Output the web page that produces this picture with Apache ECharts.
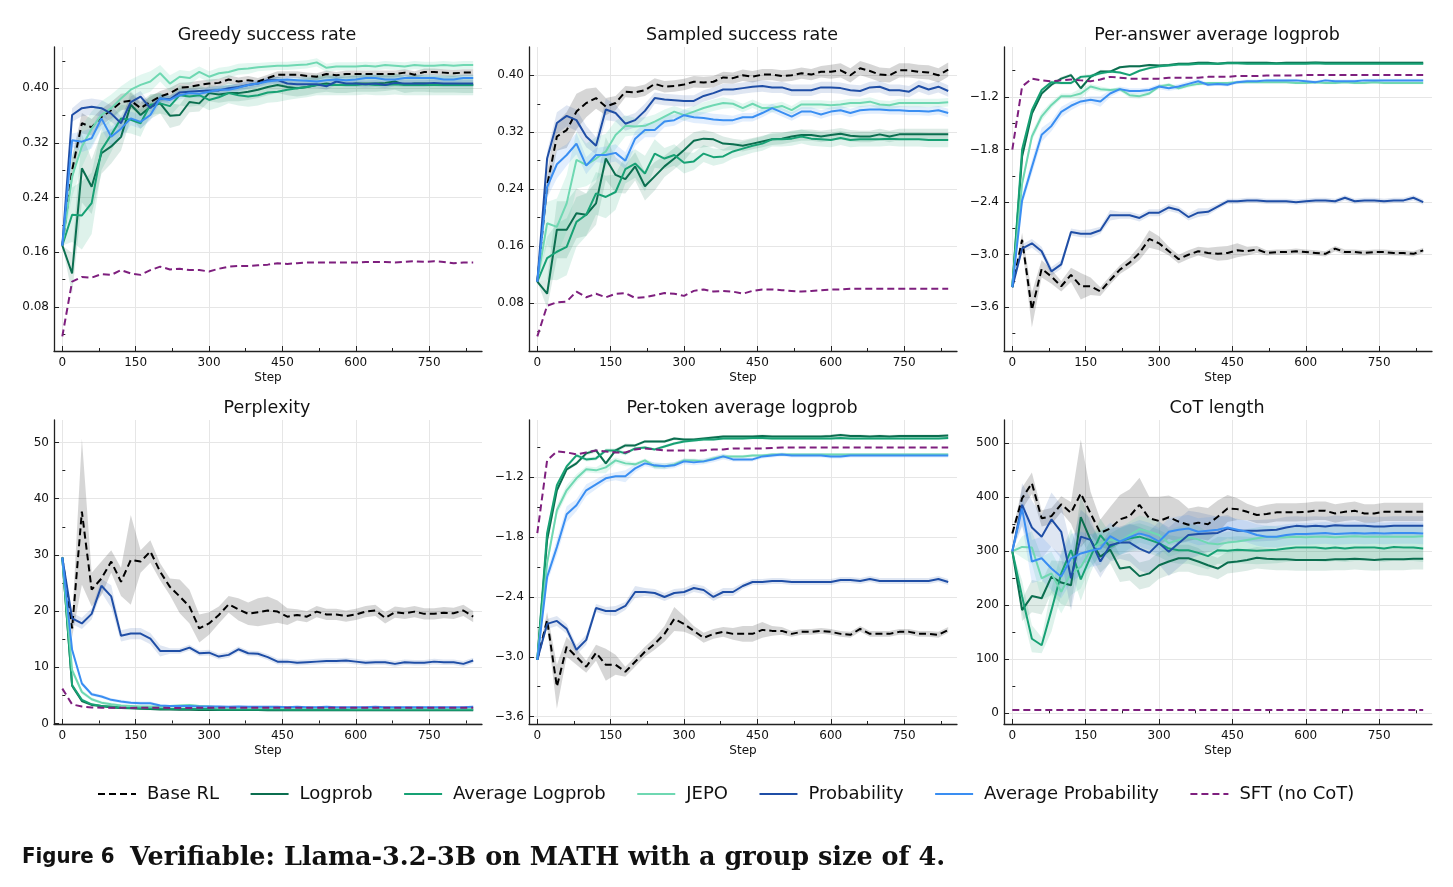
<!DOCTYPE html>
<html>
<head>
<meta charset="utf-8" />
<style>
  html, body { margin: 0; padding: 0; background: #ffffff; }
  #main { width: 1453px; height: 887px; }
</style>
</head>
<body>
<div id="main"></div>
<script src="https://cdn.jsdelivr.net/npm/echarts@6/dist/echarts.min.js"></script>
<script>
const steps = [0,20,40,60,80,100,120,140,160,180, 200,220,240,260,280,300,320,340,360,380, 400,420,440,460,480,500,520,540,560,580, 600,620,640,660,680,700,720,740,760,780, 800,820,840];

const names = ['Base RL', 'Logprob', 'Average Logprob', 'JEPO', 'Probability', 'Average Probability', 'SFT (no CoT)'];
const xTicks = [0, 150, 300, 450, 600, 750];
const xMinorTicks = [75, 225, 375, 525, 675, 825];

// Greedy success rate
const greedyBase = [.170,.280,.349,.343,.358,.368,.380,.382,.371,.380, .388,.393,.401,.402,.405,.407,.408,.413,.410,.412, .410,.415,.420,.420,.420,.418,.417,.421,.419,.421, .421,.421,.421,.421,.421,.423,.420,.424,.424,.423, .422,.423,.423];
const greedyLogprob = [.170,.129,.283,.256,.305,.315,.329,.376,.361,.373, .378,.360,.361,.380,.378,.393,.391,.393,.393,.395, .398,.402,.405,.402,.400,.402,.405,.407,.405,.405, .407,.407,.407,.408,.410,.405,.407,.407,.406,.406, .406,.405,.405];
const greedyAvgLogprob = [.170,.215,.214,.232,.310,.332,.356,.354,.349,.376, .378,.374,.390,.388,.390,.383,.387,.393,.390,.388, .390,.394,.395,.398,.400,.402,.405,.405,.405,.405, .405,.406,.405,.405,.406,.405,.405,.405,.405,.405, .405,.405,.405];
const greedyJepo = [.170,.271,.315,.341,.361,.371,.385,.398,.405,.410, .422,.407,.417,.415,.424,.417,.422,.424,.428,.429, .431,.432,.433,.433,.434,.435,.438,.430,.432,.432, .432,.433,.432,.434,.433,.432,.434,.433,.433,.434, .433,.434,.434];
const greedyProb = [.170,.361,.371,.373,.371,.363,.349,.380,.388,.371, .385,.384,.394,.395,.396,.397,.397,.400,.402,.405, .407,.412,.412,.407,.406,.406,.406,.403,.410,.407, .407,.406,.407,.405,.408,.407,.407,.407,.408,.407, .407,.407,.407];
const greedyAvgProb = [.170,.324,.322,.327,.356,.329,.341,.356,.351,.361, .385,.383,.390,.393,.392,.395,.398,.398,.401,.405, .407,.410,.412,.413,.412,.411,.410,.412,.413,.412, .413,.415,.415,.413,.413,.415,.415,.415,.415,.413, .413,.415,.415];
const greedySft = [.037,.117,.124,.123,.128,.127,.134,.129,.127,.134, .139,.135,.136,.134,.134,.132,.136,.139,.140,.140, .141,.142,.144,.143,.144,.145,.145,.145,.145,.145, .145,.146,.146,.146,.145,.146,.147,.146,.147,.146, .144,.145,.145];
const greedyBaseBand = [0,.02,.015,.012,.012,.012,.012,.012,.008,.008, .008,.008,.007,.007,.006,.006,.006,.006,.006,.006, .005,.005,.005,.005,.005,.005,.005,.005,.005,.005, .005,.005,.005,.005,.005,.005,.005,.005,.005,.005, .005,.005,.005];
const greedyLogprobBand = [0,.03,.05,.04,.03,.025,.02,.02,.02,.018, .015,.018,.015,.015,.012,.012,.012,.012,.012,.012, .012,.012,.012,.012,.012,.012,.012,.012,.012,.012, .012,.012,.012,.012,.012,.012,.012,.012,.012,.012, .012,.012,.012];
const greedyAvgLogprobBand = [0,.04,.05,.045,.03,.025,.02,.02,.02,.015, .015,.015,.015,.015,.015,.015,.015,.015,.015,.015, .015,.015,.015,.015,.015,.015,.015,.015,.015,.015, .015,.015,.015,.015,.015,.015,.015,.015,.015,.015, .015,.015,.015];
const greedyJepoBand = [0,.03,.03,.025,.02,.02,.018,.015,.015,.015, .012,.012,.01,.01,.008,.008,.008,.008,.008,.008, .006,.006,.006,.006,.006,.006,.006,.006,.006,.006, .006,.006,.006,.006,.006,.006,.006,.006,.006,.006, .006,.006,.006];
const greedyProbBand = [0,.01,.012,.012,.012,.012,.01,.008,.008,.006, .005,.005,.005,.005,.005,.005,.005,.005,.005,.005, .005,.005,.005,.005,.005,.005,.005,.005,.005,.005, .005,.005,.005,.005,.005,.005,.005,.005,.005,.005, .005,.005,.005];
const greedyAvgProbBand = [0,.01,.015,.015,.015,.015,.015,.01,.01,.008, .006,.006,.006,.006,.006,.006,.006,.006,.006,.006, .005,.005,.005,.005,.005,.005,.005,.005,.005,.005, .005,.005,.005,.005,.005,.005,.005,.005,.005,.005, .005,.005,.005];

// Sampled success rate
const sampledBase = [.110,.245,.314,.323,.349,.361,.368,.356,.361,.377, .376,.379,.388,.384,.385,.387,.391,.390,.391,.397, .396,.400,.398,.401,.401,.399,.400,.403,.401,.405, .405,.407,.400,.410,.406,.401,.400,.407,.407,.405, .404,.400,.408];
const sampledLogprob = [.110,.093,.183,.183,.206,.204,.220,.283,.260,.254, .272,.244,.258,.272,.283,.295,.308,.311,.310,.304, .303,.301,.304,.307,.310,.311,.314,.316,.316,.314, .316,.318,.315,.314,.314,.317,.314,.317,.317,.317, .317,.317,.317];
const sampledAvgLogprob = [.110,.143,.152,.159,.194,.204,.234,.229,.236,.268, .276,.262,.290,.283,.288,.277,.279,.290,.285,.286, .293,.297,.301,.304,.310,.310,.311,.314,.311,.310, .309,.312,.309,.310,.310,.310,.311,.310,.310,.310, .309,.309,.309];
const sampledJepo = [.110,.192,.187,.220,.281,.274,.283,.293,.316,.329, .328,.329,.335,.342,.349,.344,.349,.354,.358,.361, .360,.354,.360,.354,.354,.357,.351,.359,.359,.359, .358,.359,.361,.361,.363,.359,.358,.361,.361,.361, .361,.361,.362];
const sampledProb = [.110,.283,.333,.343,.337,.314,.301,.352,.347,.332, .337,.350,.368,.366,.365,.364,.364,.371,.375,.380, .380,.382,.384,.385,.383,.383,.379,.379,.379,.383, .383,.382,.379,.378,.383,.384,.379,.379,.377,.385, .380,.384,.378];
const sampledAvgProb = [.110,.243,.275,.288,.304,.273,.288,.288,.291,.280, .311,.323,.323,.335,.337,.344,.341,.340,.338,.337, .337,.341,.341,.347,.354,.348,.342,.349,.349,.345, .349,.351,.347,.351,.352,.352,.351,.351,.350,.350, .349,.351,.347];
const sampledSft = [.033,.076,.081,.082,.096,.088,.093,.088,.093,.094, .087,.088,.091,.094,.093,.090,.097,.099,.096,.097, .096,.093,.097,.099,.099,.098,.097,.096,.097,.098, .099,.099,.100,.100,.100,.100,.100,.100,.100,.100, .100,.100,.100];
const sampledBaseBand = [0,.02,.02,.025,.025,.02,.015,.012,.01,.008, .008,.008,.008,.008,.008,.008,.008,.008,.008,.008, .008,.008,.008,.008,.008,.008,.008,.008,.008,.008, .01,.01,.01,.01,.01,.01,.01,.01,.01,.01, .01,.01,.01];
const sampledLogprobBand = [0,.02,.04,.04,.035,.03,.03,.03,.025,.02, .02,.02,.02,.015,.015,.015,.012,.012,.01,.01, .008,.008,.008,.008,.008,.008,.008,.008,.008,.008, .008,.008,.008,.008,.008,.008,.008,.008,.008,.008, .008,.008,.008];
const sampledAvgLogprobBand = [0,.03,.04,.04,.035,.03,.03,.03,.025,.02, .02,.025,.02,.015,.015,.015,.012,.012,.012,.01, .01,.01,.01,.01,.01,.01,.01,.01,.01,.01, .01,.01,.01,.01,.01,.01,.01,.01,.01,.01, .01,.01,.01];
const sampledJepoBand = [0,.03,.04,.04,.04,.03,.03,.025,.02,.015, .012,.012,.01,.01,.008,.008,.008,.008,.008,.008, .006,.006,.006,.006,.006,.006,.006,.006,.006,.006, .006,.006,.006,.006,.006,.006,.006,.006,.006,.006, .006,.006,.006];
const sampledProbBand = [0,.01,.015,.015,.015,.015,.012,.015,.012,.01, .01,.01,.008,.008,.008,.008,.008,.008,.008,.008, .008,.008,.008,.008,.008,.008,.008,.008,.008,.008, .008,.008,.008,.008,.008,.008,.008,.008,.008,.008, .008,.008,.008];
const sampledAvgProbBand = [0,.015,.02,.015,.015,.012,.01,.012,.012,.012, .01,.01,.01,.008,.008,.008,.008,.008,.008,.008, .006,.006,.006,.006,.006,.006,.006,.006,.006,.006, .006,.006,.006,.006,.006,.006,.006,.006,.006,.006, .006,.006,.006];

// Per-answer average logprob
const answerBase = [-3.37,-2.83,-3.63,-3.16,-3.25,-3.36,-3.23,-3.36,-3.36,-3.42, -3.29,-3.17,-3.09,-2.98,-2.82,-2.87,-2.96,-3.05,-3.00,-2.96, -2.98,-2.99,-2.98,-2.95,-2.96,-2.94,-2.98,-2.97,-2.97,-2.96, -2.97,-2.98,-2.99,-2.93,-2.97,-2.97,-2.98,-2.97,-2.97,-2.98, -2.98,-2.99,-2.95];
const answerLogprob = [-3.37,-1.88,-1.39,-1.16,-1.06,-0.99,-0.95,-1.10,-0.97,-0.91, -0.91,-0.86,-0.85,-0.85,-0.835,-0.84,-0.835,-0.82,-0.82,-0.81, -0.81,-0.82,-0.81,-0.81,-0.81,-0.81,-0.81,-0.815,-0.81,-0.81, -0.81,-0.805,-0.81,-0.81,-0.81,-0.81,-0.81,-0.81,-0.81,-0.81, -0.81,-0.81,-0.81];
const answerAvgLogprob = [-3.37,-1.80,-1.35,-1.12,-1.03,-1.04,-1.04,-0.97,-0.96,-0.93, -0.91,-0.92,-0.95,-0.90,-0.87,-0.85,-0.84,-0.83,-0.83,-0.82, -0.82,-0.82,-0.815,-0.815,-0.82,-0.82,-0.82,-0.82,-0.82,-0.82, -0.82,-0.815,-0.82,-0.82,-0.82,-0.82,-0.82,-0.82,-0.82,-0.82, -0.82,-0.82,-0.82];
const answerJepo = [-3.37,-2.19,-1.65,-1.42,-1.29,-1.19,-1.19,-1.16,-1.08,-1.11, -1.12,-1.11,-1.18,-1.19,-1.16,-1.08,-1.06,-1.10,-1.07,-1.05, -1.04,-1.04,-1.04,-1.03,-1.03,-1.03,-1.03,-1.03,-1.03,-1.04, -1.04,-1.03,-1.04,-1.04,-1.03,-1.04,-1.04,-1.03,-1.04,-1.04, -1.04,-1.04,-1.04];
const answerProb = [-3.37,-2.93,-2.87,-2.96,-3.19,-3.11,-2.74,-2.76,-2.76,-2.72, -2.55,-2.55,-2.55,-2.58,-2.52,-2.52,-2.46,-2.49,-2.57,-2.52, -2.51,-2.45,-2.39,-2.39,-2.38,-2.38,-2.39,-2.39,-2.39,-2.40, -2.39,-2.38,-2.38,-2.39,-2.35,-2.39,-2.38,-2.38,-2.39,-2.38, -2.38,-2.35,-2.40];
const answerAvgProb = [-3.37,-2.38,-2.00,-1.63,-1.53,-1.37,-1.30,-1.25,-1.23,-1.25, -1.16,-1.11,-1.13,-1.13,-1.12,-1.08,-1.10,-1.08,-1.05,-1.02, -1.06,-1.05,-1.06,-1.03,-1.02,-1.02,-1.01,-1.01,-1.01,-1.01, -1.02,-1.03,-1.01,-1.02,-1.02,-1.02,-1.01,-1.01,-1.01,-1.01, -1.01,-1.01,-1.01];
const answerSft = [-1.80,-1.08,-0.99,-1.01,-1.02,-1.01,-1.00,-1.01,-1.02,-1.00, -0.97,-0.98,-0.99,-0.99,-0.99,-0.99,-0.98,-0.98,-0.98,-0.98, -0.97,-0.97,-0.97,-0.96,-0.96,-0.96,-0.955,-0.955,-0.955,-0.955, -0.95,-0.95,-0.95,-0.95,-0.95,-0.95,-0.95,-0.95,-0.95,-0.95, -0.95,-0.95,-0.95];
const answerBaseBand = [0,.08,.2,.1,.08,.06,.08,.15,.1,.05, .05,.05,.06,.08,.1,.08,.05,.05,.05,.05, .06,.08,.08,.08,.05,.04,.03,.03,.03,.03, .03,.03,.03,.03,.03,.03,.03,.03,.03,.03, .03,.03,.03];
const answerLogprobBand = [0,.04,.03,.02,.02,.02,.02,.02,.02,.02, .015,.015,.015,.015,.015,.015,.015,.015,.015,.015, .015,.015,.015,.015,.015,.015,.015,.015,.015,.015, .015,.015,.015,.015,.015,.015,.015,.015,.015,.015, .015,.015,.015];
const answerAvgLogprobBand = [0,.04,.03,.02,.02,.02,.02,.02,.02,.02, .015,.015,.015,.015,.015,.015,.015,.015,.015,.015, .015,.015,.015,.015,.015,.015,.015,.015,.015,.015, .015,.015,.015,.015,.015,.015,.015,.015,.015,.015, .015,.015,.015];
const answerJepoBand = [0,.05,.05,.05,.04,.03,.03,.06,.03,.03, .02,.02,.03,.03,.02,.02,.02,.02,.02,.02, .015,.015,.015,.015,.015,.015,.015,.015,.015,.015, .015,.015,.015,.015,.015,.015,.015,.015,.015,.015, .015,.015,.015];
const answerProbBand = [0,.05,.05,.05,.05,.05,.04,.04,.05,.04, .06,.04,.04,.04,.04,.04,.04,.04,.04,.05, .04,.03,.03,.03,.03,.03,.03,.03,.03,.03, .03,.03,.03,.03,.03,.03,.03,.03,.03,.03, .03,.03,.03];
const answerAvgProbBand = [0,.06,.08,.08,.06,.06,.05,.04,.04,.06, .04,.03,.03,.03,.03,.03,.03,.03,.03,.03, .02,.02,.02,.02,.02,.02,.02,.02,.02,.02, .02,.02,.02,.02,.02,.02,.02,.02,.02,.02, .02,.02,.02];

// Perplexity
const pplBase = [29.5,16.9,37.7,23.8,25.8,28.8,25.2,29.1,28.8,30.6, 27.0,24.3,22.6,20.8,16.9,17.8,19.3,21.2,20.3,19.5, 19.8,20.1,19.9,19.0,19.3,19.0,19.9,19.4,19.4,19.1, 19.4,19.9,20.1,18.8,19.8,19.6,19.9,19.5,19.5,19.7, 19.6,20.1,19.0];
const pplLogprob = [29.5,6.7,4.0,3.3,3.1,2.85,2.75,2.7,2.6,2.55, 2.5,2.5,2.45,2.45,2.4,2.4,2.4,2.4,2.4,2.4, 2.4,2.35,2.35,2.35,2.35,2.35,2.35,2.35,2.35,2.35, 2.35,2.35,2.35,2.35,2.35,2.35,2.35,2.35,2.35,2.35, 2.35,2.35,2.35];
const pplAvgLogprob = [29.5,6.8,4.2,3.4,3.1,3.0,2.85,2.8,2.75,2.7, 2.65,2.6,2.6,2.6,2.55,2.55,2.5,2.5,2.5,2.5, 2.5,2.5,2.5,2.45,2.45,2.45,2.45,2.45,2.45,2.45, 2.45,2.45,2.45,2.45,2.45,2.45,2.45,2.45,2.45,2.45, 2.45,2.45,2.45];
const pplJepo = [29.5,9.5,5.6,4.3,3.7,3.4,3.2,3.1,3.0,3.0, 3.0,3.1,3.2,3.3,3.1,3.0,2.9,2.9,2.85,2.85, 2.85,2.8,2.8,2.8,2.8,2.75,2.75,2.75,2.75,2.75, 2.7,2.7,2.7,2.7,2.7,2.7,2.7,2.7,2.7,2.7, 2.7,2.7,2.7];
const pplProb = [29.5,18.7,17.8,19.5,24.5,22.6,15.6,16.0,16.0,15.1, 12.9,12.9,12.9,13.5,12.5,12.6,11.9,12.2,13.2,12.5, 12.4,11.8,11.0,11.0,10.8,10.9,11.0,11.1,11.1,11.2, 11.0,10.8,10.9,10.9,10.6,10.9,10.8,10.8,11.0,10.9, 10.9,10.6,11.2];
const pplAvgProb = [29.5,13.1,7.1,5.2,4.8,4.2,3.9,3.7,3.6,3.6, 3.2,3.1,3.1,3.1,3.0,3.0,3.0,2.95,3.0,2.95, 2.95,2.95,2.95,2.9,2.95,2.9,2.9,2.95,2.9,2.9, 2.9,2.9,2.95,2.9,2.9,2.9,2.9,2.9,2.9,2.9, 2.9,2.9,2.95];
const pplSft = [6.2,3.4,3.0,2.85,2.8,2.8,2.8,2.75,2.8,2.8, 2.8,2.75,2.75,2.75,2.8,2.8,2.8,2.8,2.8,2.8, 2.8,2.8,2.8,2.8,2.8,2.8,2.8,2.8,2.8,2.8, 2.8,2.8,2.8,2.8,2.8,2.8,2.8,2.8,2.8,2.8, 2.8,2.8,2.8];
const pplBaseBand = [0,1.5,13,3,3,2,2.5,8,2,2, 1.5,1.5,3,3,2.5,2,1.5,1.5,2,2, 2.5,2.5,2,1.5,1,1,1,1,1,1, 1,1,1,1,1,1,1,1,1,1, 1,1,1];
const pplLogprobBand = [0,.5,.3,.2,.2,.2,.2,.2,.2,.2, .2,.2,.2,.2,.2,.2,.2,.2,.2,.2, .2,.2,.2,.2,.2,.2,.2,.2,.2,.2, .2,.2,.2,.2,.2,.2,.2,.2,.2,.2, .2,.2,.2];
const pplAvgLogprobBand = [0,.5,.3,.2,.2,.2,.2,.2,.2,.2, .2,.2,.2,.2,.2,.2,.2,.2,.2,.2, .2,.2,.2,.2,.2,.2,.2,.2,.2,.2, .2,.2,.2,.2,.2,.2,.2,.2,.2,.2, .2,.2,.2];
const pplJepoBand = [0,.6,.4,.3,.3,.3,.2,.2,.2,.2, .2,.2,.2,.2,.2,.2,.2,.2,.2,.2, .2,.2,.2,.2,.2,.2,.2,.2,.2,.2, .2,.2,.2,.2,.2,.2,.2,.2,.2,.2, .2,.2,.2];
const pplProbBand = [0,1,1,1,1.2,2,1,1,1,1, 1,.5,.5,.5,.5,.5,.5,.5,.5,.5, .5,.5,.5,.5,.5,.5,.5,.5,.5,.5, .5,.5,.5,.5,.5,.5,.5,.5,.5,.5, .5,.5,.5];
const pplAvgProbBand = [0,.5,.4,.3,.3,.3,.3,.3,.3,.3, .2,.2,.2,.2,.2,.2,.2,.2,.2,.2, .2,.2,.2,.2,.2,.2,.2,.2,.2,.2, .2,.2,.2,.2,.2,.2,.2,.2,.2,.2, .2,.2,.2];

// Per-token average logprob
const tokenBase = [-3.03,-2.63,-3.30,-2.90,-3.00,-3.10,-2.96,-3.08,-3.08,-3.15, -3.05,-2.95,-2.87,-2.77,-2.62,-2.67,-2.74,-2.81,-2.77,-2.75, -2.77,-2.77,-2.77,-2.73,-2.74,-2.74,-2.77,-2.75,-2.75,-2.74, -2.75,-2.77,-2.78,-2.72,-2.77,-2.77,-2.77,-2.75,-2.75,-2.77, -2.77,-2.78,-2.73];
const tokenLogprob = [-3.03,-1.83,-1.33,-1.12,-1.06,-0.96,-0.93,-1.06,-0.93,-0.88, -0.88,-0.84,-0.84,-0.84,-0.81,-0.82,-0.82,-0.81,-0.80,-0.79, -0.79,-0.79,-0.79,-0.785,-0.79,-0.79,-0.79,-0.79,-0.79,-0.79, -0.785,-0.775,-0.785,-0.785,-0.79,-0.785,-0.79,-0.785,-0.785,-0.785, -0.785,-0.785,-0.78];
const tokenAvgLogprob = [-3.03,-1.76,-1.28,-1.09,-0.98,-1.02,-1.01,-0.93,-0.93,-0.96, -0.91,-0.90,-0.92,-0.89,-0.86,-0.84,-0.83,-0.82,-0.82,-0.81, -0.81,-0.81,-0.805,-0.805,-0.81,-0.81,-0.81,-0.81,-0.81,-0.81, -0.81,-0.805,-0.81,-0.81,-0.81,-0.81,-0.81,-0.81,-0.81,-0.81, -0.81,-0.81,-0.805];
const tokenJepo = [-3.03,-2.06,-1.53,-1.33,-1.21,-1.12,-1.13,-1.10,-1.03,-1.06, -1.07,-1.03,-1.09,-1.09,-1.07,-1.03,-1.03,-1.04,-1.01,-0.99, -0.99,-0.99,-0.98,-0.98,-0.97,-0.97,-0.97,-0.97,-0.97,-0.97, -0.97,-0.97,-0.97,-0.97,-0.97,-0.97,-0.97,-0.97,-0.97,-0.97, -0.97,-0.97,-0.97];
const tokenProb = [-3.03,-2.67,-2.64,-2.72,-2.93,-2.83,-2.51,-2.54,-2.54,-2.49, -2.35,-2.35,-2.36,-2.40,-2.36,-2.35,-2.31,-2.33,-2.40,-2.35, -2.35,-2.29,-2.25,-2.25,-2.24,-2.24,-2.25,-2.25,-2.25,-2.25, -2.25,-2.23,-2.23,-2.24,-2.22,-2.24,-2.24,-2.24,-2.24,-2.24, -2.24,-2.22,-2.25];
const tokenAvgProb = [-3.03,-2.20,-1.90,-1.57,-1.48,-1.33,-1.27,-1.21,-1.19,-1.19, -1.11,-1.06,-1.08,-1.09,-1.08,-1.04,-1.05,-1.04,-1.02,-0.99, -1.02,-1.02,-1.02,-0.99,-0.98,-0.97,-0.98,-0.98,-0.98,-0.98, -0.99,-0.99,-0.98,-0.98,-0.98,-0.98,-0.98,-0.98,-0.98,-0.98, -0.98,-0.98,-0.98];
const tokenSft = [-1.76,-1.03,-0.94,-0.95,-0.97,-0.95,-0.93,-0.94,-0.95,-0.95, -0.92,-0.91,-0.92,-0.93,-0.93,-0.93,-0.93,-0.93,-0.92,-0.92, -0.91,-0.91,-0.91,-0.91,-0.905,-0.90,-0.90,-0.90,-0.90,-0.90, -0.90,-0.90,-0.90,-0.90,-0.90,-0.90,-0.90,-0.90,-0.90,-0.90, -0.90,-0.90,-0.90];
const tokenBaseBand = [0,.08,.22,.1,.08,.06,.08,.16,.1,.05, .05,.05,.06,.08,.12,.08,.05,.05,.05,.05, .06,.08,.08,.08,.05,.04,.03,.03,.03,.03, .03,.03,.03,.03,.03,.03,.03,.03,.03,.03, .03,.03,.03];
const tokenLogprobBand = [0,.04,.03,.02,.02,.02,.02,.02,.02,.02, .015,.015,.015,.015,.015,.015,.015,.015,.015,.015, .015,.015,.015,.015,.015,.015,.015,.015,.015,.015, .015,.015,.015,.015,.015,.015,.015,.015,.015,.015, .015,.015,.015];
const tokenAvgLogprobBand = [0,.04,.03,.02,.02,.02,.02,.02,.02,.02, .015,.015,.015,.015,.015,.015,.015,.015,.015,.015, .015,.015,.015,.015,.015,.015,.015,.015,.015,.015, .015,.015,.015,.015,.015,.015,.015,.015,.015,.015, .015,.015,.015];
const tokenJepoBand = [0,.05,.05,.05,.04,.03,.03,.06,.03,.03, .02,.02,.03,.03,.02,.02,.02,.02,.02,.02, .015,.015,.015,.015,.015,.015,.015,.015,.015,.015, .015,.015,.015,.015,.015,.015,.015,.015,.015,.015, .015,.015,.015];
const tokenProbBand = [0,.05,.05,.05,.05,.05,.04,.04,.05,.04, .06,.04,.04,.04,.04,.04,.04,.04,.04,.04, .04,.03,.03,.03,.03,.03,.03,.03,.03,.03, .03,.03,.03,.03,.03,.03,.03,.03,.03,.03, .03,.03,.03];
const tokenAvgProbBand = [0,.06,.08,.08,.06,.06,.05,.04,.04,.06, .04,.03,.03,.03,.03,.03,.03,.03,.03,.03, .02,.02,.02,.02,.02,.02,.02,.02,.02,.02, .02,.02,.02,.02,.02,.02,.02,.02,.02,.02, .02,.02,.02];

// CoT length
const cotBase = [333,398,426,361,365,387,371,407,370,334, 342,359,365,386,361,356,363,355,349,353, 350,364,379,378,373,367,369,372,372,372, 373,375,375,370,373,375,370,370,373,373, 373,373,373];
const cotLogprob = [300,191,217,213,253,242,237,363,321,290, 303,268,271,254,259,274,281,287,287,281, 274,268,279,281,284,288,286,285,285,284, 284,284,284,285,285,286,285,284,285,285, 285,286,286];
const cotAvgLogprob = [300,216,138,126,191,259,302,248,290,330, 308,318,324,327,321,315,305,302,302,297, 291,302,301,303,302,301,302,303,305,307, 307,307,305,307,305,307,307,307,305,308, 307,307,305];
const cotJepo = [300,308,307,250,259,225,259,271,302,315, 321,318,330,341,336,330,315,321,326,322, 315,313,316,318,321,324,327,326,326,327, 326,327,327,326,327,328,327,327,327,327, 327,327,328];
const cotProb = [300,386,344,327,359,336,250,327,321,281, 311,316,316,305,297,315,299,315,330,332, 333,334,342,338,338,338,339,340,344,347, 346,347,346,348,347,347,347,346,346,347, 347,347,347];
const cotAvgProb = [300,379,281,287,268,253,287,296,301,305, 328,318,326,333,328,318,336,340,342,336, 338,340,344,340,336,330,327,327,330,332, 332,333,334,332,333,334,333,334,333,334, 334,334,333];
const cotSft = [6,6,6,6,6,6,6,6,6,6, 6,6,6,6,6,6,6,6,6,6, 6,6,6,6,6,6,6,6,6,6, 6,6,6,6,6,6,6,6,6,6, 6,6,6];
const cotBaseBand = [0,20,20,15,15,15,20,100,40,25, 40,45,50,50,40,45,40,40,30,30, 30,30,25,20,15,15,17,17,17,17, 17,17,17,17,17,17,17,17,17,17, 17,17,17];
const cotLogprobBand = [0,20,30,30,30,40,40,40,30,30, 25,25,25,25,25,25,25,25,25,25, 20,20,20,20,20,20,20,20,20,20, 20,20,20,20,20,20,20,20,20,20, 20,20,20];
const cotAvgLogprobBand = [0,30,25,15,40,40,40,40,30,30, 25,25,25,25,25,25,25,25,25,25, 25,25,25,25,25,25,25,25,25,25, 25,25,25,25,25,25,25,25,25,25, 25,25,25];
const cotJepoBand = [0,20,30,40,40,40,40,40,30,25, 25,25,25,25,25,25,25,25,25,25, 20,20,20,20,20,20,20,20,20,20, 20,20,20,20,20,20,20,20,20,20, 20,20,20];
const cotProbBand = [0,40,50,40,50,50,60,50,40,30, 30,30,35,40,40,40,45,45,45,40, 35,30,25,20,20,20,20,20,20,18, 18,18,18,18,18,18,18,18,18,18, 18,18,18];
const cotAvgProbBand = [0,30,40,40,40,40,45,40,30,30, 25,25,25,25,25,25,25,25,25,25, 25,25,20,20,20,20,20,20,20,20, 20,20,20,20,20,20,20,20,20,20, 20,20,20];

const lineColors = ['#000000', '#0b6e4f', '#17a174', '#6fd8b2', '#1f4ea6', '#3a8ef2', '#7e1f7e'];
const bandColors = ['rgba(0,0,0,0.16)', 'rgba(11,110,79,0.14)', 'rgba(23,161,116,0.14)', 'rgba(111,216,178,0.2)',
  'rgba(31,78,166,0.14)', 'rgba(58,142,242,0.15)', 'rgba(126,31,126,0.15)'];
const isDashed = [true, false, false, false, false, false, true];

const panels = [
  { title: 'Greedy success rate', left: 54, top: 47, min: 0.0156, max: 0.4605, digits: 2,
    ticks: [0.08, 0.16, 0.24, 0.32, 0.40], minor: [0.04, 0.12, 0.20, 0.28, 0.36, 0.44],
    lines: [greedyBase, greedyLogprob, greedyAvgLogprob, greedyJepo, greedyProb, greedyAvgProb, greedySft],
    bands: [greedyBaseBand, greedyLogprobBand, greedyAvgLogprobBand, greedyJepoBand, greedyProbBand, greedyAvgProbBand, null] },
  { title: 'Sampled success rate', left: 529, top: 47, min: 0.0125, max: 0.4398, digits: 2,
    ticks: [0.08, 0.16, 0.24, 0.32, 0.40], minor: [0.04, 0.12, 0.20, 0.28, 0.36],
    lines: [sampledBase, sampledLogprob, sampledAvgLogprob, sampledJepo, sampledProb, sampledAvgProb, sampledSft],
    bands: [sampledBaseBand, sampledLogprobBand, sampledAvgLogprobBand, sampledJepoBand, sampledProbBand, sampledAvgProbBand, null] },
  { title: 'Per-answer average logprob', left: 1004, top: 47, min: -4.099, max: -0.629, digits: 1,
    ticks: [-3.6, -3.0, -2.4, -1.8, -1.2], minor: [-3.9, -3.3, -2.7, -2.1, -1.5, -0.9],
    lines: [answerBase, answerLogprob, answerAvgLogprob, answerJepo, answerProb, answerAvgProb, answerSft],
    bands: [answerBaseBand, answerLogprobBand, answerAvgLogprobBand, answerJepoBand, answerProbBand, answerAvgProbBand, null] },
  { title: 'Perplexity', left: 54, top: 420, min: -0.1, max: 54, digits: 0,
    ticks: [0, 10, 20, 30, 40, 50], minor: [5, 15, 25, 35, 45],
    lines: [pplBase, pplLogprob, pplAvgLogprob, pplJepo, pplProb, pplAvgProb, pplSft],
    bands: [pplBaseBand, pplLogprobBand, pplAvgLogprobBand, pplJepoBand, pplProbBand, pplAvgProbBand, null] },
  { title: 'Per-token average logprob', left: 529, top: 420, min: -3.674, max: -0.625, digits: 1,
    ticks: [-3.6, -3.0, -2.4, -1.8, -1.2], minor: [-3.3, -2.7, -2.1, -1.5, -0.9],
    lines: [tokenBase, tokenLogprob, tokenAvgLogprob, tokenJepo, tokenProb, tokenAvgProb, tokenSft],
    bands: [tokenBaseBand, tokenLogprobBand, tokenAvgLogprobBand, tokenJepoBand, tokenProbBand, tokenAvgProbBand, null] },
  { title: 'CoT length', left: 1004, top: 420, min: -19.8, max: 543, digits: 0,
    ticks: [0, 100, 200, 300, 400, 500], minor: [50, 150, 250, 350, 450],
    lines: [cotBase, cotLogprob, cotAvgLogprob, cotJepo, cotProb, cotAvgProb, cotSft],
    bands: [cotBaseBand, cotLogprobBand, cotAvgLogprobBand, cotJepoBand, cotProbBand, cotAvgProbBand, null] }
];

const W = 428, H = 304;
const axisColor = '#222';
const fmt = (v, d) => (v < 0 ? '\u2212' : '') + Math.abs(v).toFixed(d);

const grids = [], xAxes = [], yAxes = [], bandSeries = [], lineSeries = [];
const graphics = [];
const warnings = [];

panels.forEach((p, g) => {
  grids.push({ left: p.left, top: p.top, width: W, height: H });
  graphics.push({ type: 'text', x: p.left + W / 2 - 1, y: p.top - 12, silent: true,
    style: { text: p.title, fontSize: 17.5, fontFamily: 'DejaVu Sans', fill: '#111', align: 'center', verticalAlign: 'middle' } });

  xAxes.push({
    gridIndex: g, type: 'value', min: -17, max: 858, position: 'bottom',
    name: 'Step', nameLocation: 'middle', nameGap: 21,
    nameTextStyle: { fontSize: 12, color: '#111', fontFamily: 'DejaVu Sans' },
    axisLine: { show: true, onZero: false, lineStyle: { color: axisColor, width: 1.3 } },
    axisTick: { show: true, inside: true, length: 5, customValues: xTicks, lineStyle: { color: axisColor } },
    axisLabel: { customValues: xTicks, margin: 6, fontSize: 12, color: '#111', fontFamily: 'DejaVu Sans' },
    splitLine: { show: true, lineStyle: { color: '#e6e6e6', width: 1 } }
  });
  xAxes.push({
    gridIndex: g, type: 'value', min: -17, max: 858, position: 'bottom',
    axisLine: { show: false }, axisLabel: { show: false }, splitLine: { show: false },
    axisTick: { show: true, inside: true, length: 3, customValues: xMinorTicks, lineStyle: { color: axisColor } }
  });
  yAxes.push({
    gridIndex: g, type: 'value', min: p.min, max: p.max, position: 'left',
    axisLine: { show: true, onZero: false, lineStyle: { color: axisColor, width: 1.3 } },
    axisTick: { show: true, inside: true, length: 5, customValues: p.ticks, lineStyle: { color: axisColor } },
    axisLabel: { customValues: p.ticks, margin: 5, fontSize: 12, color: '#111', fontFamily: 'DejaVu Sans',
      formatter: v => fmt(v, p.digits) },
    splitLine: { show: true, lineStyle: { color: '#e6e6e6', width: 1 } }
  });
  yAxes.push({
    gridIndex: g, type: 'value', min: p.min, max: p.max, position: 'left',
    axisLine: { show: false }, axisLabel: { show: false }, splitLine: { show: false },
    axisTick: { show: true, inside: true, length: 3, customValues: p.minor, lineStyle: { color: axisColor } }
  });

  const xi = g * 2, yi = g * 2;
  p.lines.forEach((vals, k) => {
    if (vals.length !== steps.length) warnings.push(p.title + ' ' + names[k] + ' ' + vals.length);
    const band = p.bands[k];
    if (band) {
      if (band.length !== steps.length) warnings.push(p.title + ' band ' + names[k] + ' ' + band.length);
      bandSeries.push({
        type: 'custom', xAxisIndex: xi, yAxisIndex: yi, silent: true, z: 1, clip: true,
        data: steps.map((s, i) => [s, vals[i] - band[i], vals[i] + band[i]]),
        encode: { x: 0, y: [1, 2] },
        renderItem: (params, api) => {
          if (params.dataIndex !== 0) return;
          const upper = steps.map((s, i) => api.coord([s, vals[i] + band[i]]));
          const lower = steps.map((s, i) => api.coord([s, vals[i] - band[i]])).reverse();
          return { type: 'polygon', shape: { points: upper.concat(lower) }, style: { fill: bandColors[k] } };
        }
      });
    }
    lineSeries.push({
      type: 'line', name: names[k], xAxisIndex: xi, yAxisIndex: yi,
      data: steps.map((s, i) => [s, vals[i]]),
      symbol: 'none', z: 3,
      lineStyle: { color: lineColors[k], width: 2, type: isDashed[k] ? [7, 4] : 'solid' },
      itemStyle: { color: lineColors[k] }
    });
  });
});

graphics.push(
  { type: 'text', left: 22, top: 846,
    style: { text: 'Figure 6', fontSize: 22, fontWeight: 'bold', fontFamily: '"DejaVu Sans Condensed", "DejaVu Sans"', fill: '#111' } },
  { type: 'text', left: 130, top: 845,
    style: { text: 'Verifiable: Llama-3.2-3B on MATH with a group size of 4.', fontSize: 25.5, fontWeight: 'bold',
      fontFamily: 'DejaVu Serif', fill: '#111' } }
);
if (warnings.length) {
  graphics.push({ type: 'text', left: 10, top: 5, style: { text: warnings.join(' | '), fontSize: 12, fill: 'red' } });
}

const chart = echarts.init(document.getElementById('main'), null, { renderer: 'canvas' });
chart.setOption({
  animation: false,
  backgroundColor: '#ffffff',
  textStyle: { fontFamily: 'DejaVu Sans' },
  grid: grids,
  xAxis: xAxes,
  yAxis: yAxes,
  legend: {
    data: names, left: 97, top: 785, padding: 0, itemWidth: 38, itemHeight: 14, itemGap: 30.5,
    itemStyle: { opacity: 0 },
    textStyle: { fontSize: 18, color: '#111', fontFamily: 'DejaVu Sans', padding: [0, 0, 0, 6] }
  },
  graphic: graphics,
  series: bandSeries.concat(lineSeries)
});
</script>
</body>
</html>
